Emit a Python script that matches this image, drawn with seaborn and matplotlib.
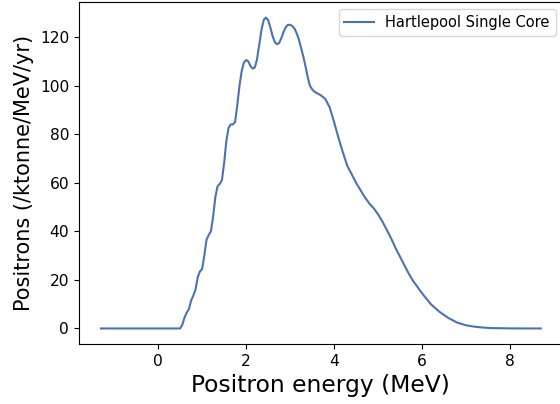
import matplotlib
matplotlib.use("Agg")
import matplotlib.pyplot as plt
import seaborn as sns
import pandas as pd

# Positron spectrum for a single Hartlepool reactor core
energy_mev = [
    -1.3, -1.0, -0.5, 0.0, 0.5, 0.55, 0.6, 0.65, 0.7, 0.75, 0.8, 0.85, 0.9, 0.95,
    1.0, 1.05, 1.1, 1.15, 1.2, 1.25, 1.3, 1.35, 1.4, 1.45, 1.5, 1.55, 1.6, 1.65,
    1.7, 1.75, 1.8, 1.85, 1.9, 1.95, 2.0, 2.05, 2.1, 2.15, 2.2, 2.25, 2.3, 2.35,
    2.4, 2.45, 2.5, 2.55, 2.6, 2.65, 2.7, 2.75, 2.8, 2.85, 2.9, 2.95, 3.0, 3.05,
    3.1, 3.15, 3.2, 3.25, 3.3, 3.35, 3.4, 3.45, 3.5, 3.55, 3.6, 3.7, 3.8, 3.9,
    4.0, 4.1, 4.2, 4.3, 4.4, 4.5, 4.6, 4.7, 4.8, 4.9, 5.0, 5.1, 5.2, 5.3, 5.4,
    5.5, 5.6, 5.7, 5.8, 5.9, 6.0, 6.2, 6.4, 6.6, 6.8, 7.0, 7.2, 7.4, 7.6, 8.0,
    8.4, 8.7,
]
positrons = [
    0.0, 0.0, 0.0, 0.0, 0.0, 1.5, 4.5, 6.5, 8.0, 11.5, 13.5, 16.0, 21.0, 23.5,
    24.5, 30.0, 36.5, 38.5, 40.0, 46.0, 54.0, 58.5, 59.5, 61.0, 68.0, 77.0, 82.5, 84.0,
    84.0, 85.0, 92.0, 100.0, 106.0, 109.5, 110.5, 110.0, 108.0, 107.0, 107.5, 111.0, 117.0, 123.0,
    127.0, 128.0, 127.0, 124.0, 120.5, 118.0, 117.0, 117.5, 119.5, 122.0, 124.0, 125.0, 125.0, 124.5,
    123.5, 121.5, 119.0, 115.5, 112.0, 108.0, 103.5, 100.0, 98.5, 97.5, 97.0, 96.0, 94.5, 91.0,
    85.0, 78.5, 72.5, 67.0, 63.5, 60.0, 57.0, 54.0, 51.5, 49.5, 47.0, 44.0, 40.5, 37.0, 33.0,
    29.5, 26.0, 22.5, 19.5, 17.0, 14.5, 10.0, 6.8, 4.3, 2.4, 1.3, 0.7, 0.35, 0.15, 0.03,
    0.0, 0.0,
]
series_label = "Hartlepool Single Core"

df = pd.DataFrame({"energy": energy_mev, "positrons": positrons})

fig = plt.figure(figsize=(5.6, 4.04), dpi=100)
ax = fig.add_axes([0.141, 0.1485, 0.864, 0.8465])

sns.lineplot(data=df, x="energy", y="positrons", ax=ax,
             color="#4C72B0", linewidth=1.5, label=series_label)

ax.set_xlabel("Positron energy (MeV)", fontsize=16.8)
ax.set_ylabel("Positrons (/ktonne/MeV/yr)", fontsize=15)
ax.tick_params(labelsize=11.2)
ax.legend(loc="upper right", fontsize=10.5, borderaxespad=0.5)

fig.savefig("out.png", dpi=100)
